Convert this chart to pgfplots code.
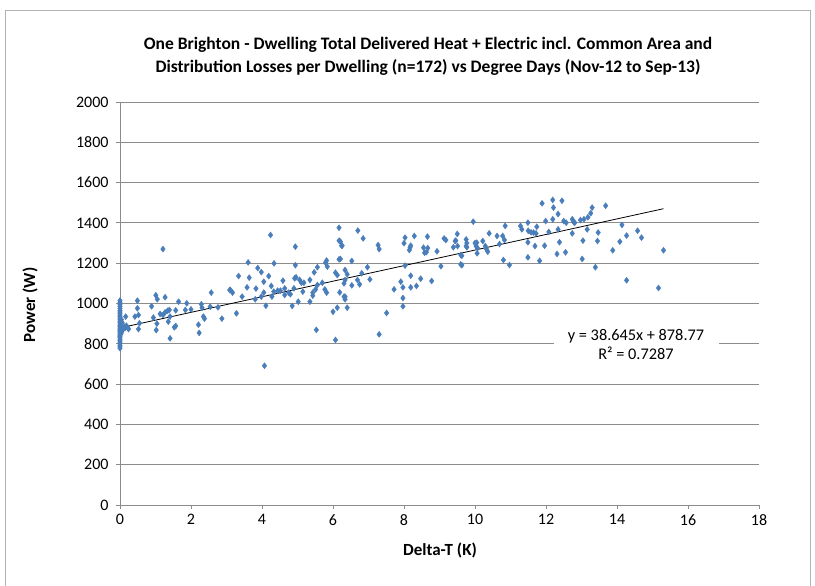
\documentclass[border=0pt]{standalone}
\usepackage{pgfplots}
\pgfplotsset{compat=1.18}
\usepackage{pgfplotstable}
\usepackage{fontspec}
\setmainfont{Carlito}
\definecolor{mblue}{HTML}{4A7EBB}
\definecolor{gridgray}{HTML}{8C8C8C}
\pgfplotstableread{
x y
0 1015
0 1005
0 995
0 985
0 975
0 965
0 958
0 950
0 942
0 935
0 928
0 920
0 912
0 905
0 898
0 890
0 885
0 878
0 872
0 866
0 860
0 854
0 848
0 842
0 836
0 830
0 822
0 815
0 808
0 800
0 792
0 785
0 778
0.03 900
0.05 880
0.08 870
0.10 875
0.12 885
0.15 880
0.18 890
0.22 880
0.05 860
0.03 850
0.04 920
0.06 905
0.16 935
0.24 873
0.42 935
0.49 1014
0.49 976
0.52 943
0.55 902
0.52 873
0.89 986
0.94 930
1.01 1041
1.05 1021
1.04 900
1.02 868
1.21 1270
1.27 1031
1.13 948
1.21 943
1.27 956
1.34 964
1.39 968
1.41 935
1.36 910
1.41 827
1.53 882
1.57 888
1.57 966
1.65 1009
1.84 968
1.88 1001
2.00 971
2.21 895
2.23 854
2.29 996
2.31 979
2.35 935
2.38 925
2.54 984
2.57 1054
2.76 981
2.87 925
3.09 1067
3.11 1067
3.17 1054
3.28 951
3.34 1136
3.44 1034
3.58 1080
3.61 1204
3.64 1128
3.81 1021
3.83 1074
3.88 1176
3.98 1156
3.98 1034
4.05 1108
4.05 1054
4.11 989
4.07 691
4.19 1136
4.24 1340
4.26 1087
4.28 1034
4.33 1059
4.34 1199
4.44 1064
4.52 1064
4.59 1113
4.64 1075
4.64 1042
4.75 1054
4.80 1046
4.85 988
4.90 1075
4.94 1282
4.94 1190
4.92 1125
4.96 1130
5.02 1009
5.06 1117
5.11 1103
5.15 1059
5.18 1103
5.35 1117
5.35 1009
5.43 1039
5.43 1054
5.47 1155
5.51 1070
5.53 869
5.56 1180
5.56 1092
5.70 1103
5.77 1070
5.79 1203
5.82 1213
5.84 1183
5.82 1054
6.00 959
6.07 819
6.12 979
6.17 1376
6.17 1312
6.24 1287
6.17 1219
6.19 1055
6.07 1153
6.12 1141
6.34 1166
6.31 1100
6.34 1034
6.34 1021
6.21 1307
6.26 1287
6.21 1221
6.40 1145
6.34 1117
6.53 1211
6.53 1090
6.31 1034
6.40 979
6.70 1362
6.85 1323
6.69 1117
6.75 1095
6.81 1150
6.97 1180
7.04 1120
7.27 1290
7.30 1270
7.30 847
7.51 953
7.72 1070
7.91 1108
7.97 1080
7.97 1027
7.97 986
8.00 1299
8.03 1327
8.03 1188
8.15 1265
8.17 1277
8.19 1287
8.19 1138
8.19 1080
8.29 1335
8.35 1087
8.47 1123
8.55 1277
8.58 1252
8.63 1255
8.67 1275
8.66 1332
8.78 1112
8.93 1259
9.04 1185
9.13 1323
9.18 1315
9.39 1279
9.44 1310
9.50 1345
9.60 1241
9.60 1194
9.46 1312
9.51 1285
9.63 1237
9.63 1190
9.75 1318
9.77 1300
9.75 1285
9.77 1279
9.95 1406
10.00 1300
10.05 1302
10.03 1285
10.07 1275
10.06 1249
10.22 1310
10.29 1285
10.33 1268
10.36 1257
10.40 1348
10.62 1335
10.69 1295
10.78 1335
10.83 1315
10.85 1385
10.80 1216
10.97 1191
11.28 1385
11.32 1368
11.49 1401
11.50 1361
11.58 1353
11.65 1352
11.72 1348
11.74 1381
11.49 1304
11.49 1229
11.69 1285
11.82 1212
11.89 1497
11.96 1287
11.99 1409
12.08 1355
12.19 1514
12.21 1476
12.34 1444
12.45 1510
12.19 1418
12.34 1368
12.31 1246
12.38 1304
12.50 1409
12.57 1401
12.55 1254
12.74 1418
12.78 1404
12.74 1348
12.81 1401
12.97 1414
13.07 1418
13.18 1428
13.26 1448
13.30 1476
13.16 1368
13.04 1312
13.02 1221
13.47 1352
13.45 1310
13.39 1180
13.68 1485
13.88 1264
14.08 1307
14.14 1390
14.27 1337
14.27 1115
14.58 1361
14.69 1327
15.17 1077
15.31 1264
}\datatable
\begin{document}
\begin{tikzpicture}[x=1pt,y=1pt]
\useasboundingbox (0,0) rectangle (815,586);
\fill[white] (0,0) rectangle (815,586);
\draw[gray!60, line width=0.8pt] (5,-5) rectangle (810,576);
\begin{axis}[
  at={(120pt,81pt)}, anchor=south west,
  scale only axis, width=639pt, height=403pt,
  xmin=0, xmax=18, ymin=0, ymax=2000,
  xtick distance=2, ytick distance=200,
  axis x line=bottom, axis y line=left,
  axis line style={gridgray, line width=0.8pt, -},
  ymajorgrids, grid style={gridgray, line width=0.8pt},
  tick style={gridgray, line width=0.8pt},
  tick align=outside, major tick length=4pt,
  xtick pos=bottom, ytick pos=left,
  ticklabel style={font=\fontsize{16}{18}\selectfont},
  yticklabel style={xshift=-4pt},
  xticklabel style={yshift=-2pt},
  /pgf/number format/assume math mode=true,
  /pgf/number format/1000 sep={},
  clip=false,
]
\addplot[only marks, mark=diamond*, mark size=3pt, mark options={fill=mblue, draw=mblue}] table[x=x,y=y] {\datatable};
\addplot[black, line width=0.8pt] coordinates {(0,878.77) (15.31,1470.43)};
\end{axis}
\node[font=\bfseries\fontsize{17.5}{23}\selectfont, align=center] at (428,530) {One Brighton - Dwelling Total Delivered Heat + Electric incl. Common Area and\\Distribution Losses per Dwelling (n=172) vs Degree Days (Nov-12 to Sep-13)};
\node[font=\bfseries\fontsize{17}{19}\selectfont, rotate=90] at (30,281) {Power (W)};
\node[font=\bfseries\fontsize{17}{19}\selectfont] at (440,36) {Delta-T (K)};
\node[fill=white, inner sep=3pt, align=center, font=\fontsize{16.3}{19}\selectfont, minimum width=165pt] at (636,241) {y = 38.645x + 878.77\\R² = 0.7287};
\end{tikzpicture}
\end{document}
